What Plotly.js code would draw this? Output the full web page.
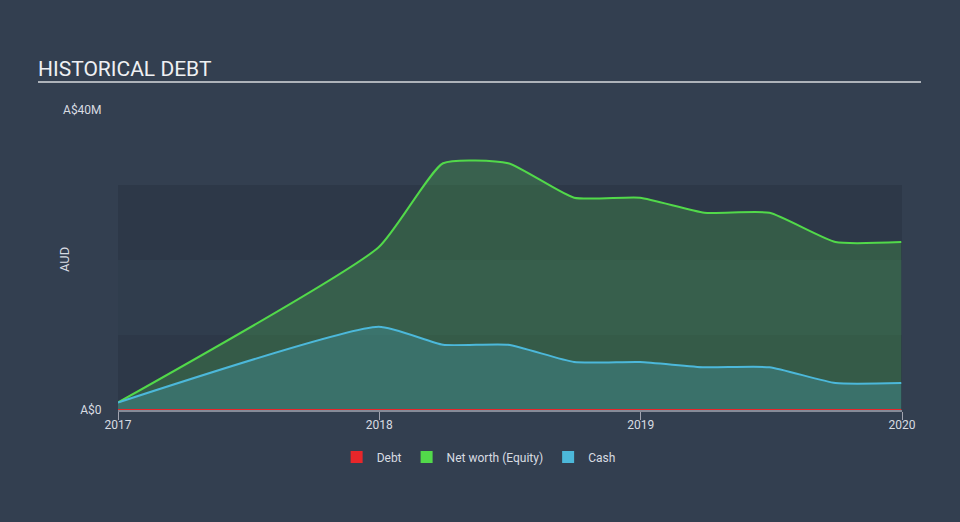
<!DOCTYPE html>
<html>
<head>
<meta charset="utf-8">
<script src="https://cdn.plot.ly/plotly-3.0.1.min.js"></script>
<style>
html,body{margin:0;padding:0;background:#333f50;}
#chart{width:960px;height:522px;}
</style>
</head>
<body>
<div id="chart"></div>
<script>
// Data (AUD)
var dates = ['2017-01-01','2017-12-31','2018-03-31','2018-06-30','2018-09-30','2018-12-31','2019-03-31','2019-06-30','2019-09-30','2019-12-31'];
var debt   = [0, 0, 0, 0, 0, 0, 0, 0, 0, 0];
var equity = [1.0e6, 21.7e6, 32.9e6, 32.9e6, 28.3e6, 28.3e6, 26.3e6, 26.3e6, 22.4e6, 22.4e6];
var cash   = [1.0e6, 11.1e6, 8.7e6, 8.7e6, 6.4e6, 6.4e6, 5.7e6, 5.7e6, 3.6e6, 3.6e6];
var yTickVals = [0, 40e6];
var yTickText = ['A$0', 'A$40M'];
var legendNames = ['Debt', 'Net worth (Equity)', 'Cash'];

var RED = '#e8262a', GREEN = '#52d94a', BLUE = '#4cb8da';
var SM = 0.5;

var traces = [
  {x: dates, y: equity, type: 'scatter', mode: 'lines', fill: 'tozeroy',
   fillcolor: 'rgba(82,217,74,0.22)', line: {color: GREEN, width: 2, shape: 'spline', smoothing: SM},
   showlegend: false, hoverinfo: 'skip'},
  {x: dates, y: cash, type: 'scatter', mode: 'lines', fill: 'tozeroy',
   fillcolor: 'rgba(76,184,218,0.24)', line: {color: BLUE, width: 2, shape: 'spline', smoothing: SM},
   showlegend: false, hoverinfo: 'skip'},
  {x: dates, y: debt, type: 'scatter', mode: 'lines',
   line: {color: RED, width: 2}, showlegend: false, hoverinfo: 'skip'},
  {x: [null], y: [null], type: 'bar', name: legendNames[0], marker: {color: RED}},
  {x: [null], y: [null], type: 'bar', name: legendNames[1], marker: {color: GREEN}},
  {x: [null], y: [null], type: 'bar', name: legendNames[2], marker: {color: BLUE}}
];

var bandDark = 'rgba(38,48,62,0.45)';
var bandLight = 'rgba(44,56,72,0.35)';

var layout = {
  width: 960, height: 522,
  paper_bgcolor: '#333f50',
  plot_bgcolor: '#333f50',
  margin: {l: 118, r: 58, t: 110, b: 112},
  font: {family: 'Roboto, sans-serif', color: '#d8dce2', size: 12},
  title: {text: 'HISTORICAL DEBT', font: {family: 'Roboto, sans-serif', size: 21, color: '#eef0f3'},
          xref: 'container', yref: 'container', x: 38/960, xanchor: 'left', y: 1 - 69/522, yanchor: 'middle'},
  xaxis: {
    type: 'date', range: ['2017-01-01', '2020-01-01'],
    tick0: '2017-01-01', dtick: 'M12', tickformat: '%Y',
    showgrid: false, zeroline: false,
    showline: true, linecolor: 'rgba(190,190,200,0.6)', linewidth: 2,
    ticks: 'outside', ticklen: 8, tickcolor: 'rgba(190,190,200,0.8)', tickwidth: 1,
    ticklabelstandoff: -5,
    tickfont: {size: 12, color: '#d8dce2'}, fixedrange: true
  },
  yaxis: {
    range: [0, 40e6], tickvals: yTickVals, ticktext: yTickText,
    showgrid: false, zeroline: false, showline: false,
    ticks: 'outside', ticklen: 13, tickcolor: 'rgba(0,0,0,0)',
    tickfont: {size: 12, color: '#d8dce2'},
    fixedrange: true
  },
  annotations: [
    {text: 'AUD', xref: 'paper', yref: 'paper', x: (64-118)/784, y: 0.5, xanchor: 'center', yanchor: 'middle',
     textangle: -90, showarrow: false, font: {size: 13, color: '#d8dce2'}}
  ],
  showlegend: true,
  legend: {orientation: 'h', x: 0.46, xanchor: 'center', y: -0.157, yanchor: 'middle',
           font: {size: 12, color: '#d8dce2'}, bgcolor: 'rgba(0,0,0,0)', itemclick: false},
  shapes: [
    {type: 'rect', xref: 'paper', yref: 'y', x0: 0, x1: 1, y0: 0, y1: 10e6, fillcolor: bandDark, line: {width: 0}, layer: 'below'},
    {type: 'rect', xref: 'paper', yref: 'y', x0: 0, x1: 1, y0: 10e6, y1: 20e6, fillcolor: bandLight, line: {width: 0}, layer: 'below'},
    {type: 'rect', xref: 'paper', yref: 'y', x0: 0, x1: 1, y0: 20e6, y1: 30e6, fillcolor: bandDark, line: {width: 0}, layer: 'below'},
    {type: 'line', xref: 'paper', yref: 'paper', x0: (38-118)/784, x1: (921-118)/784, y0: (410-82)/300, y1: (410-82)/300,
     line: {color: '#aeb3ba', width: 2}}
  ]
};

Plotly.newPlot('chart', traces, layout, {staticPlot: true, displayModeBar: false});
</script>
</body>
</html>
